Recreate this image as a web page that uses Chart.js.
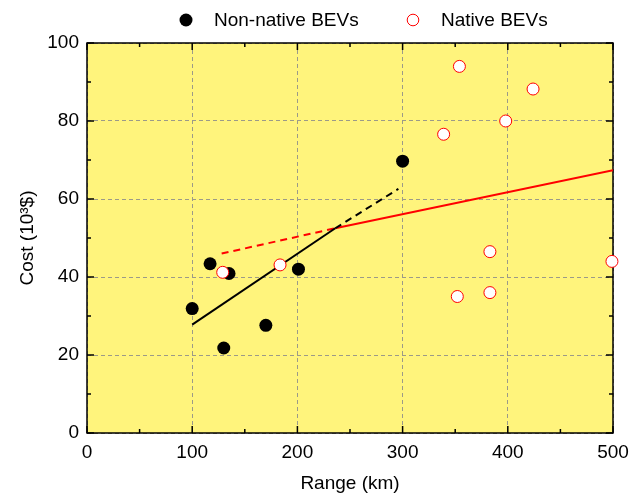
<!DOCTYPE html>
<html>
<head>
<meta charset="utf-8">
<script src="https://cdn.jsdelivr.net/npm/chart.js@4/dist/chart.umd.min.js"></script>
<style>
  html, body { margin: 0; padding: 0; background: #fff; }
  #wrap { width: 643px; height: 495px; }
</style>
</head>
<body>
<div id="wrap"><canvas id="costChart"></canvas></div>
<script>
// Scatter data (range in km, cost in 10^3 $)
const nonNativeRange = [100, 117, 135, 130, 170, 201, 300];
const nonNativeCost  = [31.9, 43.4, 40.9, 21.8, 27.6, 42.0, 69.7];

const nativeRange = [129, 183.5, 339, 354, 398, 424, 352, 383, 383, 499];
const nativeCost  = [41.2, 43.1, 76.6, 94.0, 80.0, 88.2, 35.0, 36.0, 46.5, 44.0];

// Fitted trend lines
const nonNativeFitRange  = [100, 236];
const nonNativeFitCost   = [27.8, 52.5];
const nonNativeExtRange  = [236, 296];
const nonNativeExtCost   = [52.5, 62.6];
const nativeExtRange     = [128, 236];
const nativeExtCost      = [46.0, 52.5];
const nativeFitRange     = [236, 500];
const nativeFitCost      = [52.5, 67.4];

// Axis ticks
const xMajorTicks = [0, 100, 200, 300, 400, 500];
const xMinorTicks = [50, 150, 250, 350, 450];
const yMajorTicks = [0, 20, 40, 60, 80, 100];
const yMinorTicks = [10, 30, 50, 70, 90];

const legendNames = ["Non-native BEVs", "Native BEVs"];

const FONT = "Arial, 'Liberation Sans', Helvetica, sans-serif";
const FONT_SIZE = 19;
const toPoints = (xs, ys) => xs.map((x, i) => ({ x, y: ys[i] }));

// yellow plot background + frame
const frame = {
  id: "frame",
  beforeDraw(chart) {
    const { ctx, chartArea: a } = chart;
    ctx.save();
    ctx.fillStyle = "#fff47c";
    ctx.fillRect(a.left, a.top, a.right - a.left, a.bottom - a.top);
    ctx.restore();
  },
  beforeDatasetsDraw(chart) {
    const { ctx, chartArea: a, scales } = chart;
    ctx.save();
    ctx.strokeStyle = "#000";
    ctx.lineWidth = 1.5;
    // inward ticks on all four sides
    const tick = (vals, len, horiz) => {
      vals.forEach(v => {
        ctx.beginPath();
        if (horiz) {
          const px = scales.x.getPixelForValue(v);
          ctx.moveTo(px, a.bottom); ctx.lineTo(px, a.bottom - len);
          ctx.moveTo(px, a.top); ctx.lineTo(px, a.top + len);
        } else {
          const py = scales.y.getPixelForValue(v);
          ctx.moveTo(a.left, py); ctx.lineTo(a.left + len, py);
          ctx.moveTo(a.right, py); ctx.lineTo(a.right - len, py);
        }
        ctx.stroke();
      });
    };
    tick(xMajorTicks, 7, true);
    tick(xMinorTicks, 4, true);
    tick(yMajorTicks, 7, false);
    tick(yMinorTicks, 4, false);
    ctx.strokeRect(a.left, a.top, a.right - a.left, a.bottom - a.top);
    ctx.restore();
  },
  // legend drawn above the plot
  afterDraw(chart) {
    const { ctx } = chart;
    ctx.save();
    ctx.font = FONT_SIZE + "px " + FONT;
    ctx.textBaseline = "middle";
    ctx.fillStyle = "#000";
    const y = 20;
    ctx.beginPath();
    ctx.arc(186, y, 6.5, 0, Math.PI * 2);
    ctx.fill();
    ctx.fillText(legendNames[0], 214, y + 1);
    ctx.beginPath();
    ctx.arc(413, y, 5.8, 0, Math.PI * 2);
    ctx.fillStyle = "#fff";
    ctx.fill();
    ctx.strokeStyle = "#ff0000";
    ctx.lineWidth = 1;
    ctx.stroke();
    ctx.fillStyle = "#000";
    ctx.fillText(legendNames[1], 441, y + 1);
    ctx.restore();
  }
};

const ctx = document.getElementById("costChart").getContext("2d");
new Chart(ctx, {
  type: "scatter",
  data: {
    datasets: [
      {
        label: legendNames[0],
        data: toPoints(nonNativeRange, nonNativeCost),
        pointRadius: 6.5,
        pointBackgroundColor: "#000",
        pointBorderColor: "#000",
        pointBorderWidth: 0,
        order: 1,
        clip: false
      },
      {
        label: legendNames[1],
        data: toPoints(nativeRange, nativeCost),
        pointRadius: 6,
        pointBackgroundColor: "#fff",
        pointBorderColor: "#ff0000",
        pointBorderWidth: 1,
        order: 0,
        clip: false
      },
      {
        data: toPoints(nonNativeFitRange, nonNativeFitCost),
        showLine: true, pointRadius: 0, borderColor: "#000", borderWidth: 2, order: 2
      },
      {
        data: toPoints(nonNativeExtRange, nonNativeExtCost),
        showLine: true, pointRadius: 0, borderColor: "#000", borderWidth: 2,
        borderDash: [7, 5], order: 2
      },
      {
        data: toPoints(nativeExtRange, nativeExtCost),
        showLine: true, pointRadius: 0, borderColor: "#ff0000", borderWidth: 2,
        borderDash: [7, 5], order: 2
      },
      {
        data: toPoints(nativeFitRange, nativeFitCost),
        showLine: true, pointRadius: 0, borderColor: "#ff0000", borderWidth: 2, order: 2
      }
    ]
  },
  options: {
    responsive: true,
    maintainAspectRatio: false,
    animation: false,
    layout: { padding: { top: 43, right: 30, left: 0, bottom: 0 } },
    plugins: {
      legend: { display: false },
      tooltip: { enabled: false }
    },
    scales: {
      x: {
        type: "linear",
        min: 0, max: 500,
        afterBuildTicks: s => { s.ticks = xMajorTicks.map(v => ({ value: v })); },
        afterFit: s => { s.height = 62; },
        ticks: { color: "#000", padding: 8, font: { family: FONT, size: FONT_SIZE } },
        grid: { color: "#9c9a88", lineWidth: 1, drawTicks: false },
        border: { display: false, dash: [4, 3] },
        title: {
          display: true, text: "Range (km)", color: "#000",
          font: { family: FONT, size: FONT_SIZE }, padding: { bottom: 0 }
        }
      },
      y: {
        min: 0, max: 100,
        afterBuildTicks: s => { s.ticks = yMajorTicks.map(v => ({ value: v })); },
        afterFit: s => { s.width = 87; },
        ticks: { color: "#000", padding: 8, font: { family: FONT, size: FONT_SIZE } },
        grid: { color: "#9c9a88", lineWidth: 1, drawTicks: false },
        border: { display: false, dash: [4, 3] },
        title: {
          display: true, text: "Cost (10³$)", color: "#000",
          font: { family: FONT, size: FONT_SIZE }, padding: { top: 16 }
        }
      }
    }
  },
  plugins: [frame]
});
</script>
</body>
</html>
